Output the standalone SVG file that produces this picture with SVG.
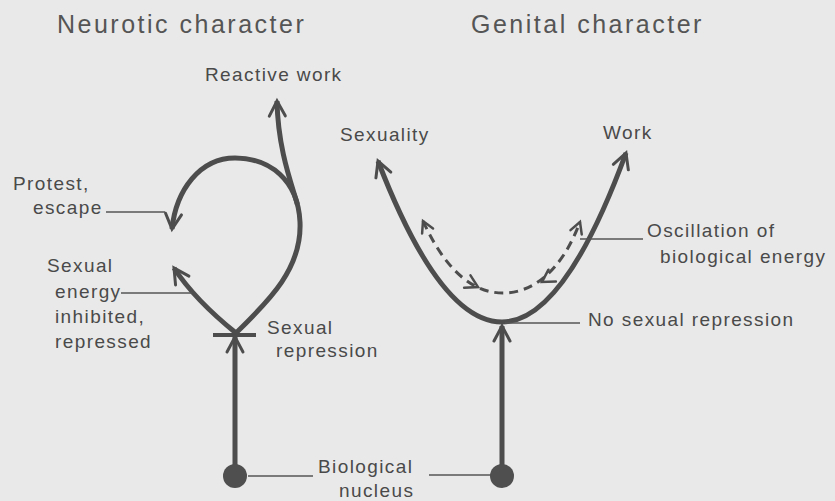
<svg xmlns="http://www.w3.org/2000/svg" width="835" height="501" viewBox="0 0 835 501">
<style>
text { font-family: "Liberation Sans", Arial, sans-serif; fill: #4a4a4a; font-size: 19px; letter-spacing: 1.4px; }
.title { font-size: 25px; letter-spacing: 2.5px; fill: #555; }
.thick { fill: none; stroke: #4d4d4d; stroke-width: 5; stroke-linecap: butt; }
.dash { fill: none; stroke: #4d4d4d; stroke-width: 3; stroke-dasharray: 9 6; }
.lead { stroke: #555; stroke-width: 1.5; fill: none; }
.head { fill: none; stroke: #4d4d4d; stroke-width: 3; stroke-linecap: round; stroke-linejoin: miter; }
.dhead { fill: none; stroke: #4d4d4d; stroke-width: 2.5; stroke-linecap: round; }
.bar { stroke: #4d4d4d; stroke-width: 4; }
.nuc { fill: #4f4f4f; }
</style>
<defs>
<marker id="ah" markerUnits="userSpaceOnUse" markerWidth="40" markerHeight="40" viewBox="-20 -20 40 40" refX="0" refY="0" orient="auto" overflow="visible">
<path class="head" d="M -15 -8 L 0 0 L -15 8"/>
</marker>
<marker id="dh" markerUnits="userSpaceOnUse" markerWidth="40" markerHeight="40" viewBox="-20 -20 40 40" refX="0" refY="0" orient="auto-start-reverse" overflow="visible">
<path class="dhead" d="M -11 -6 L 0 0 L -11 6"/>
</marker>
<path id="vh" class="dhead" d="M -12 -7 L 0 0 L -12 7"/>
</defs>
<rect width="835" height="501" fill="#e9e9e9"/>

<g id="connectors">
<!-- Neurotic -->
<line class="thick" x1="235" y1="466" x2="235" y2="337" marker-end="url(#ah)"/>
<line class="bar" x1="213" y1="335" x2="256" y2="335"/>
<path class="thick" d="M 236 333 C 270 300, 302 268, 300 222 C 298 180, 270 158, 235 158 C 200 158, 176 190, 172 229" marker-end="url(#ah)"/>
<path class="thick" d="M 297.4 204.4 C 292 185, 278 150, 277 101" marker-end="url(#ah)"/>
<path class="thick" d="M 236 333 Q 195 300 174 268" marker-end="url(#ah)"/>
<line class="lead" x1="106" y1="212" x2="165" y2="212"/>
<line class="lead" x1="121" y1="293" x2="192" y2="293"/>
<line class="lead" x1="248" y1="476" x2="313" y2="476"/>
<!-- Genital -->
<line class="thick" x1="502" y1="465" x2="502" y2="326" marker-end="url(#ah)"/>
<path class="thick" d="M 502 322 Q 440 322 378 161" marker-end="url(#ah)"/>
<path class="thick" d="M 502 322 Q 564 322 626 153" marker-end="url(#ah)"/>
<path class="dash" d="M 423 221 C 450 280, 480 293, 503 293 C 530 293, 560 275, 580 222" marker-start="url(#dh)" marker-end="url(#dh)"/>
<use href="#vh" transform="translate(478,287) rotate(27)"/>
<use href="#vh" transform="translate(542,282) rotate(148)"/>
<line class="lead" x1="580" y1="239" x2="643" y2="239"/>
<line class="lead" x1="505" y1="323" x2="580" y2="323"/>
<line class="lead" x1="429" y1="475" x2="491" y2="475"/>
</g>

<g id="neurotic-title"><text class="title" x="57" y="33">Neurotic character</text></g>
<g id="genital-title"><text class="title" x="471" y="33">Genital character</text></g>

<g id="reactive-work"><text x="205" y="81">Reactive work</text></g>
<g id="protest-escape"><text x="13" y="190">Protest,</text><text x="33" y="214">escape</text></g>
<g id="sexual-energy"><text x="47" y="272">Sexual</text><text x="55" y="298">energy</text><text x="55" y="323">inhibited,</text><text x="55" y="348">repressed</text></g>
<g id="sexual-repression"><text x="267" y="334">Sexual</text><text x="276" y="357">repression</text></g>
<g id="nucleus-left"><circle class="nuc" cx="235" cy="476" r="12"/></g>
<g id="nucleus-right"><circle class="nuc" cx="502" cy="476" r="12"/></g>
<g id="biological-nucleus"><text x="318" y="473">Biological</text><text x="339" y="497">nucleus</text></g>

<g id="sexuality"><text x="340" y="141">Sexuality</text></g>
<g id="work"><text x="603" y="139">Work</text></g>
<g id="oscillation"><text x="647" y="237">Oscillation of</text><text x="660" y="263">biological energy</text></g>
<g id="no-sexual-repression"><text x="588" y="326">No sexual repression</text></g>
</svg>
